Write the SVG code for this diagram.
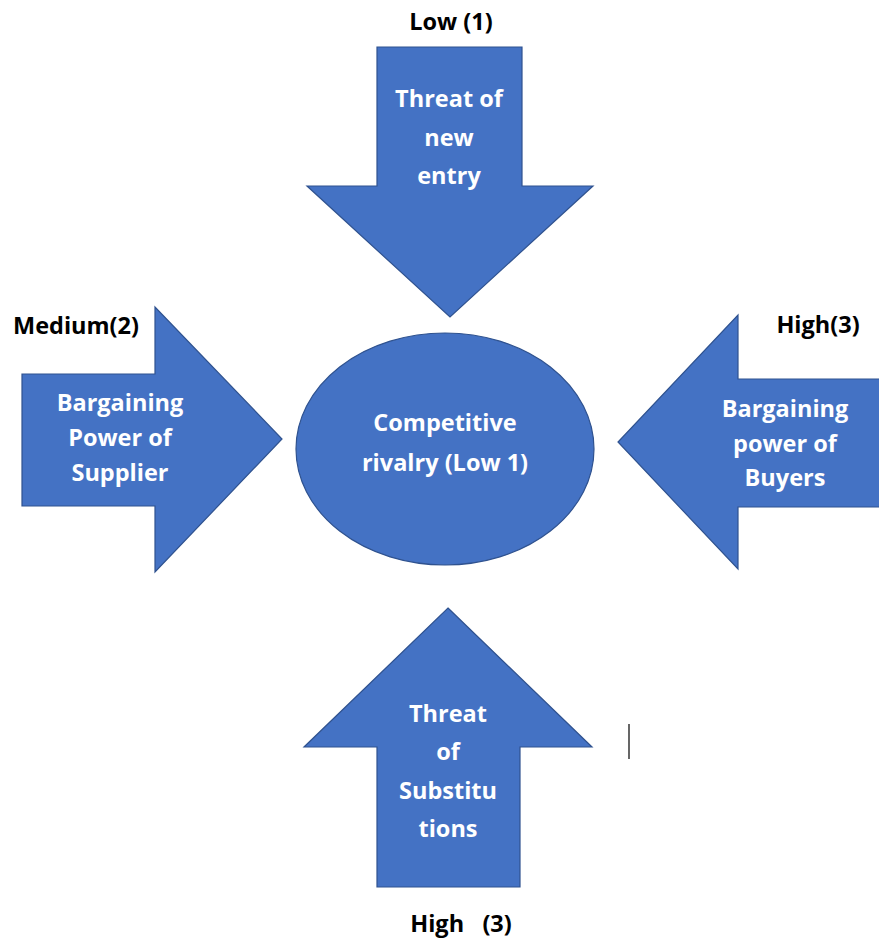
<svg xmlns="http://www.w3.org/2000/svg" width="879" height="939" viewBox="0 0 879 939">
<style>
.shape{fill:#4472C4;stroke:#2F528F;stroke-width:1.2}
.w{fill:#fff;font-family:"Open Sans","Liberation Sans",sans-serif;font-weight:bold;font-size:23.5px;text-anchor:middle}
.k{fill:#000;font-family:"Open Sans","Liberation Sans",sans-serif;font-weight:bold;font-size:23.5px;text-anchor:middle}
</style>
<rect width="879" height="939" fill="#fff"/>
<g id="top-arrow">
<polygon class="shape" points="377,47 522,47 522,186 593,186 450,317 307,186 377,186"/>
<text class="w" x="449" y="107">Threat of</text>
<text class="w" x="449" y="146">new</text>
<text class="w" x="449" y="184">entry</text>
<text class="k" x="451" y="30">Low (1)</text>
</g>
<g id="left-arrow">
<polygon class="shape" points="22,374 155,374 155,307 282,439 155,572 155,506 22,506"/>
<text class="w" x="120" y="411">Bargaining</text>
<text class="w" x="120" y="446">Power of</text>
<text class="w" x="120" y="481">Supplier</text>
<text class="k" x="76" y="334">Medium(2)</text>
</g>
<g id="right-arrow">
<polygon class="shape" points="880,379 738,379 738,315 618,442 738,569 738,507 880,507"/>
<text class="w" x="785" y="417">Bargaining</text>
<text class="w" x="785" y="452">power of</text>
<text class="w" x="785" y="486">Buyers</text>
<text class="k" x="818" y="333">High(3)</text>
</g>
<g id="bottom-arrow">
<polygon class="shape" points="448,608 592,747 520,747 520,887 377,887 377,747 304,747"/>
<text class="w" x="448" y="722">Threat</text>
<text class="w" x="448" y="760">of</text>
<text class="w" x="448" y="799">Substitu</text>
<text class="w" x="448" y="837">tions</text>
<text class="k" x="461" y="932" xml:space="preserve">High   (3)</text>
</g>
<g id="center">
<ellipse class="shape" cx="445" cy="449" rx="149" ry="116"/>
<text class="w" x="445" y="431">Competitive</text>
<text class="w" x="445" y="471">rivalry (Low 1)</text>
</g>
<g id="connectors"></g>
<line x1="629" y1="724" x2="629" y2="759" stroke="#000" stroke-width="1.2"/>
</svg>
